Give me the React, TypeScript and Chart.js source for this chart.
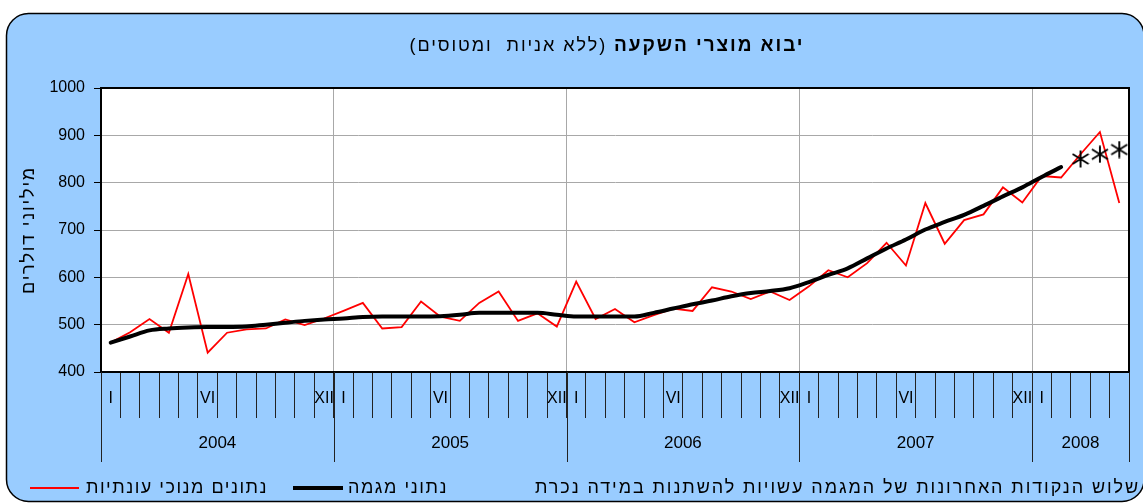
import React, { useEffect, useRef } from "react";
import { Chart, registerables } from "chart.js";

Chart.register(...registerables);

const FONT = "'Liberation Sans', Arial, sans-serif";

const YEARS = ["2004", "2005", "2006", "2007", "2008"];
const MONTHS_IN_YEAR = [12, 12, 12, 12, 5];
const MONTH_MARKS = ["I", "", "", "", "", "VI", "", "", "", "", "", "XII"];

const seasonallyAdjusted = [
  462, 484, 512, 483, 607, 441, 483, 490, 492, 511, 499, 513,
  529, 546, 492, 495, 549, 517, 508, 546, 570, 508, 524, 496,
  591, 512, 533, 505, 520, 534, 529, 579, 570, 554, 570, 552,
  581, 615, 600, 630, 673, 625, 757, 671, 721, 733, 790, 758,
  814, 811, 860, 907, 757,
];

const trend = [
  462, 475, 488, 492, 494, 495, 495, 496, 500, 504, 508, 511,
  513, 516, 517, 517, 517, 518, 521, 525, 525, 525, 525, 521,
  517, 517, 517, 517, 525, 534, 543, 551, 560, 567, 571, 577,
  590, 605, 619, 640, 661, 680, 701, 717, 732, 751, 771, 790,
  812, 833,
];

const trendEstimate = [850, 860, 870];

const TITLE_BOLD = "יבוא מוצרי השקעה";
const TITLE_REST = " (ללא אניות  ומטוסים)";
const Y_TITLE = "מיליוני דולרים";
const LEGEND_SA = "נתונים מנוכי עונתיות";
const LEGEND_TREND = "נתוני מגמה";
const FOOTNOTE = "שלוש הנקודות האחרונות של המגמה עשויות להשתנות במידה נכרת";

const categories: string[] = YEARS.flatMap((_, yi) => MONTH_MARKS.slice(0, MONTHS_IN_YEAR[yi]));

function fitText(ctx: any, text: string, x: number, y: number, width: number, align: string) {
  ctx.letterSpacing = "0px";
  const w0 = ctx.measureText(text).width;
  const count = [...text].length;
  const sp = (width - w0) / count;
  ctx.letterSpacing = `${sp}px`;
  ctx.textAlign = align;
  ctx.fillText(text, x, y);
  ctx.letterSpacing = "0px";
}

export default function App() {
  const ref = useRef<HTMLCanvasElement | null>(null);

  useEffect(() => {
    const canvas = ref.current;
    if (!canvas) return;

    const star = document.createElement("canvas");
    star.width = 18;
    star.height = 18;
    const sc = star.getContext("2d")!;
    sc.strokeStyle = "#000";
    sc.lineWidth = 1.9;
    sc.beginPath();
    sc.moveTo(9, 0.5); sc.lineTo(9, 17.5);
    sc.moveTo(1, 4); sc.lineTo(17, 14);
    sc.moveTo(1, 14); sc.lineTo(17, 4);
    sc.stroke();

    const n = categories.length;
    const trendData = [...trend, ...new Array(n - trend.length).fill(null)];
    const estData = [...new Array(n - trendEstimate.length).fill(null), ...trendEstimate];

    const decor = {
      id: "decor",
      beforeDraw(chart: any) {
        const { ctx, chartArea: ca } = chart;
        ctx.save();
        ctx.fillStyle = "#99CCFF";
        ctx.beginPath();
        (ctx as any).roundRect(6.5, 13.5, 1137.5, 488, 22);
        ctx.fill();
        ctx.lineWidth = 1.5;
        ctx.strokeStyle = "#000";
        ctx.stroke();
        ctx.fillStyle = "#fff";
        ctx.fillRect(ca.left, ca.top, ca.width, ca.height);
        ctx.restore();
      },
      afterDraw(chart: any) {
        const { ctx, chartArea: ca } = chart;
        const xs = chart.scales.x;
        const half = (xs.getPixelForValue(1) - xs.getPixelForValue(0)) / 2;
        ctx.save();
        // plot frame
        ctx.strokeStyle = "#000";
        ctx.lineWidth = 2;
        ctx.strokeRect(ca.left, ca.top, ca.width, ca.height);

        // year separators and labels
        ctx.lineWidth = 1;
        ctx.strokeStyle = "#222";
        let start = 0;
        ctx.fillStyle = "#000";
        ctx.font = `17px ${FONT}`;
        ctx.textAlign = "center";
        ctx.textBaseline = "middle";
        const bounds: number[] = [0];
        YEARS.forEach((y, yi) => {
          const end = start + MONTHS_IN_YEAR[yi];
          const x0 = xs.getPixelForValue(start) - half;
          const x1 = xs.getPixelForValue(end - 1) + half;
          ctx.fillText(y, (x0 + x1) / 2, 443);
          bounds.push(end);
          start = end;
        });
        bounds.forEach((b) => {
          const x = Math.round(b < n ? xs.getPixelForValue(b) - half : xs.getPixelForValue(n - 1) + half) + 0.5;
          ctx.beginPath();
          ctx.moveTo(x, ca.bottom);
          ctx.lineTo(x, 462);
          ctx.stroke();
        });

        // title
        ctx.direction = "rtl";
        ctx.textBaseline = "middle";
        ctx.letterSpacing = "0px";
        ctx.font = `bold 19px ${FONT}`;
        const wb = ctx.measureText(TITLE_BOLD).width;
        ctx.font = `18px ${FONT}`;
        const wn = ctx.measureText(TITLE_REST).width;
        const nb = [...TITLE_BOLD].length;
        const nn = [...TITLE_REST].length;
        const targetTitle = 395;
        const sp = (targetTitle - wb - wn) / (nb + nn);
        const right = 607 + targetTitle / 2;
        ctx.textAlign = "right";
        ctx.letterSpacing = `${sp}px`;
        ctx.font = `bold 19px ${FONT}`;
        ctx.fillText(TITLE_BOLD, right, 46);
        ctx.font = `18px ${FONT}`;
        ctx.fillText(TITLE_REST, right - wb - nb * sp, 46);
        ctx.letterSpacing = "0px";

        // y-axis title
        ctx.save();
        ctx.translate(29, 230);
        ctx.rotate(-Math.PI / 2);
        ctx.font = `18px ${FONT}`;
        fitText(ctx, Y_TITLE, 0, 0, 128, "center");
        ctx.restore();

        // legend
        const ly = 488;
        ctx.lineCap = "butt";
        ctx.strokeStyle = "#FF0000";
        ctx.lineWidth = 2;
        ctx.beginPath();
        ctx.moveTo(30, ly);
        ctx.lineTo(79, ly);
        ctx.stroke();
        ctx.strokeStyle = "#000";
        ctx.lineWidth = 4;
        ctx.beginPath();
        ctx.moveTo(293, ly);
        ctx.lineTo(343, ly);
        ctx.stroke();
        ctx.font = `18px ${FONT}`;
        fitText(ctx, LEGEND_SA, 268, ly, 182, "right");
        fitText(ctx, LEGEND_TREND, 448, ly, 100, "right");
        fitText(ctx, FOOTNOTE, 1140, ly, 605, "right");
        ctx.restore();
      },
    };

    const chart = new Chart(canvas, {
      type: "line",
      data: {
        labels: categories,
        datasets: [
          {
            label: LEGEND_SA,
            data: seasonallyAdjusted,
            borderColor: "#FF0000",
            borderWidth: 1.8,
            pointRadius: 0,
            tension: 0,
            order: 2,
          },
          {
            label: LEGEND_TREND,
            data: trendData,
            borderColor: "#000",
            borderWidth: 4,
            pointRadius: 0,
            cubicInterpolationMode: "monotone",
            borderCapStyle: "round",
            borderJoinStyle: "round",
            order: 1,
          },
          {
            label: "estimate",
            data: estData,
            showLine: false,
            pointStyle: star as any,
            pointRadius: 9,
            borderColor: "#000",
            backgroundColor: "#000",
            order: 0,
          },
        ],
      },
      options: {
        responsive: false,
        animation: false,
        events: [],
        layout: { padding: { left: 0, right: 14, top: 88, bottom: 0 } },
        plugins: {
          legend: { display: false },
          tooltip: { enabled: false },
          title: { display: false },
        },
        scales: {
          x: {
            type: "category",
            offset: true,
            grid: {
              offset: true,
              color: (c: any) =>
                c.index > 0 && c.index < n && c.index % 12 === 0 ? "#a8a8a8" : "rgba(0,0,0,0)",
              lineWidth: 1,
              drawTicks: true,
              tickLength: 46,
              tickColor: "#222",
              tickWidth: 1,
            },
            border: { display: true, color: "#000", width: 2 },
            ticks: {
              autoSkip: false,
              maxRotation: 0,
              minRotation: 0,
              padding: -29,
              color: "#000",
              font: { family: FONT, size: 16 },
            },
            afterFit: (s: any) => {
              s.height = 132;
            },
          },
          y: {
            min: 400,
            max: 1000,
            ticks: {
              stepSize: 100,
              color: "#000",
              font: { family: FONT, size: 16 },
              padding: 9,
              callback: (v: any) => String(v),
            },
            grid: { color: "#a8a8a8", lineWidth: 1, tickLength: 7, tickColor: "#000" },
            border: { color: "#000", width: 2 },
            title: { display: false },
            afterFit: (s: any) => {
              s.width = 101;
            },
          },
        },
      } as any,
      plugins: [decor],
    });

    return () => chart.destroy();
  }, []);

  return (
    <div style={{ position: "absolute", left: 0, top: 0, width: 1143, height: 504 }}>
      <canvas ref={ref} width={1143} height={504} style={{ display: "block" }} />
    </div>
  );
}
